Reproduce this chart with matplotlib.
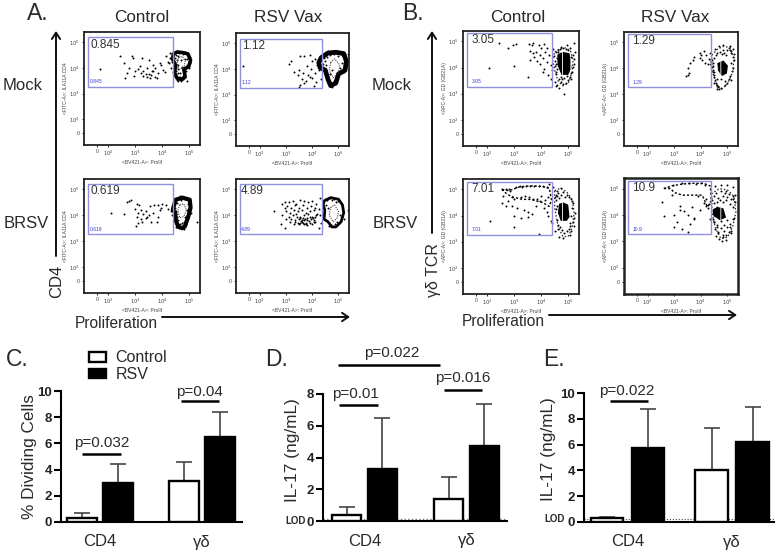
#!/usr/bin/env python3
import matplotlib
matplotlib.use("Agg")
import matplotlib.pyplot as plt
from matplotlib.patches import Rectangle

plt.rcParams["font.family"] = ["Liberation Sans", "DejaVu Sans"]
plt.rcParams["hatch.linewidth"] = 0.6

W, H = 784, 559
TXT = "#2a2a2a"
BLUE = "#8f8fe0"

# -----------------------------
# Bar data (panels C, D, E)
# -----------------------------
groups = ["CD4", "γδ"]

c_control = [0.3, 3.1]
c_rsv = [3.0, 6.5]
c_control_top = [0.7, 4.55]
c_rsv_top = [4.4, 8.4]

d_control = [0.35, 1.4]
d_rsv = [3.25, 4.75]
d_control_top = [0.88, 2.75]
d_rsv_top = [6.5, 7.4]

e_control = [0.3, 4.0]
e_rsv = [5.75, 6.2]
e_control_top = [0.4, 7.3]
e_rsv_top = [8.75, 8.95]

# -----------------------------
# Flow data, in log10 decades
# -----------------------------
a1_x = [1.7, 2.45, 2.88, 2.92, 2.6, 2.75, 2.7, 2.63, 3.0, 2.94, 3.25, 3.5, 3.18, 3.43, 3.67, 3.9, 3.3, 3.5, 3.67,
        3.85, 3.3, 3.55, 3.73, 4.03, 4.15, 4.28, 3.4, 3.6, 3.2, 3.75, 3.95, 4.1, 4.2, 3.1, 3.45, 3.62, 3.8, 4.3,
        4.25, 4.35, 4.32, 4.4, 4.38, 4.46, 4.9, 5.02, 4.6, 4.7, 4.85, 4.65, 4.78, 4.6, 4.72,
        4.45, 4.5, 4.55, 4.62, 4.7, 4.78, 4.86, 4.94, 5.02, 4.48, 4.54, 4.92, 5.0, 4.46, 4.52, 4.9, 4.98, 4.5,
        4.58, 4.88, 4.52, 4.6, 4.66, 4.8, 4.55, 4.62, 4.7, 4.78, 4.58, 4.68, 4.76]
a1_y = [3.95, 4.47, 4.45, 4.38, 4.2, 4.0, 3.8, 3.6, 3.9, 3.68, 4.38, 4.3, 4.06, 4.0, 4.13, 4.2, 3.87, 3.78, 3.87,
        3.8, 3.7, 3.6, 3.65, 3.93, 4.45, 4.58, 3.75, 3.72, 3.82, 4.0, 4.1, 3.85, 4.25, 3.95, 3.66, 3.9, 3.62,
        4.4, 4.2, 4.55, 4.0, 4.5, 4.25, 3.9, 3.5, 4.2, 4.1, 4.3, 4.35, 3.8, 3.95, 4.45, 4.05,
        4.6, 4.52, 4.66, 4.58, 4.64, 4.55, 4.62, 4.5, 4.42, 4.38, 4.3, 4.35, 4.2, 4.15, 4.05, 4.12, 3.98, 3.9,
        3.95, 3.9, 3.75, 3.8, 3.65, 3.8, 3.55, 3.65, 3.6, 3.7, 3.5, 3.5, 3.58]
a1_ring_x = [4.42, 4.55, 4.75, 4.95, 5.05, 4.98, 4.8, 4.85, 4.72, 4.55, 4.45, 4.5, 4.38]
a1_ring_y = [4.55, 4.62, 4.6, 4.55, 4.3, 4.05, 3.95, 3.65, 3.55, 3.6, 3.8, 4.1, 4.35]
a1_core_x = [4.6, 4.75, 4.85, 4.8, 4.62, 4.55]
a1_core_y = [4.4, 4.45, 4.25, 4.0, 3.95, 4.2]

a2_x = [1.35, 3.1, 3.2, 3.55, 3.7, 3.9, 3.5, 3.65, 3.8, 3.95, 4.1, 3.45, 3.6, 3.75, 3.9, 3.55, 3.7, 4.0, 4.15, 3.5,
        3.3, 4.2, 4.3, 4.05, 3.85, 4.25, 4.35, 4.1, 3.98, 5.35, 5.28, 4.4, 4.6, 5.15, 5.2, 4.75,
        4.3, 4.38, 4.46, 4.54, 4.42, 4.5, 4.58, 4.36, 4.44, 4.52, 4.6, 4.68, 4.76, 4.84, 4.92, 5.0, 5.08, 5.16,
        5.24, 5.12, 5.2, 5.06, 5.14, 4.98, 4.66, 4.74, 4.82, 4.9, 4.58, 4.66, 4.74]
a2_y = [4.1, 4.2, 4.3, 4.5, 4.52, 4.55, 3.95, 3.85, 4.1, 4.0, 3.85, 3.75, 3.6, 3.55, 3.7, 3.38, 3.45, 3.65, 3.5, 3.3,
        3.9, 4.15, 4.3, 3.35, 3.75, 3.95, 3.6, 4.4, 4.3, 4.6, 4.4, 4.55, 4.7, 4.65, 3.9, 3.3,
        4.4, 4.5, 4.42, 4.55, 4.2, 4.3, 4.45, 4.1, 4.05, 4.15, 4.62, 4.55, 4.66, 4.58, 4.62, 4.52, 4.6, 4.5,
        4.35, 4.25, 4.1, 4.05, 3.95, 3.88, 3.5, 3.42, 3.55, 3.65, 3.7, 3.8, 3.95]
a2_ring_x = [4.35, 4.6, 4.9, 5.2, 5.3, 5.25, 5.0, 4.9, 4.7, 4.6, 4.5, 4.3, 4.25]
a2_ring_y = [4.45, 4.62, 4.65, 4.6, 4.3, 3.95, 3.8, 3.45, 3.35, 3.6, 3.95, 4.05, 4.25]
a2_core_x = [4.7, 4.85, 5.05, 5.0, 4.8, 4.65]
a2_core_y = [4.25, 4.4, 4.15, 3.85, 3.65, 3.95]

a3_x = [2.1, 2.6, 2.7, 2.75, 2.85, 3.05, 3.15, 3.0, 3.2, 3.1, 3.4, 3.55, 3.7, 3.85, 4.0, 4.15, 3.3, 3.5, 3.65, 3.85,
        3.05, 3.2, 3.4, 3.6, 3.8, 3.1, 3.25, 3.45, 3.9, 4.2, 3.95, 3.02, 4.35, 4.32, 4.38, 5.3, 4.65, 5.05, 4.5,
        4.42, 4.48, 4.54, 4.6, 4.68, 4.76, 4.84, 4.92, 5.0, 4.46, 4.52, 4.94, 5.02, 4.5, 4.56, 4.9, 4.98, 4.52,
        4.6, 4.86, 4.94, 4.55, 4.63, 4.8, 4.88, 4.6, 4.68, 4.76, 4.84, 4.65, 4.72, 4.8]
a3_y = [4.1, 4.05, 4.5, 4.55, 4.6, 4.45, 4.4, 4.25, 4.2, 4.1, 4.15, 4.35, 4.4, 4.4, 4.45, 4.4, 4.05, 4.0, 4.1, 3.95,
        3.95, 3.85, 3.9, 3.75, 3.75, 3.7, 3.75, 3.95, 4.2, 4.25, 4.3, 3.6, 4.3, 4.15, 4.0, 3.75, 4.75, 4.1, 3.55,
        4.4, 4.55, 4.48, 4.62, 4.6, 4.68, 4.62, 4.66, 4.55, 4.28, 4.18, 4.42, 4.3, 4.05, 3.95, 4.2, 4.1, 3.85,
        3.8, 3.95, 3.88, 3.7, 3.62, 3.75, 3.68, 3.55, 3.5, 3.6, 3.55, 3.65, 3.72, 3.48]
a3_ring_x = [4.4, 4.5, 4.75, 5.02, 5.05, 4.98, 4.85, 4.75, 4.6, 4.5, 4.48, 4.4]
a3_ring_y = [4.25, 4.6, 4.68, 4.6, 4.3, 4.0, 3.6, 3.5, 3.55, 3.8, 4.1, 4.2]
a3_core_x = [4.65, 4.8, 4.9, 4.8, 4.65, 4.58]
a3_core_y = [4.4, 4.45, 4.2, 3.95, 3.9, 4.2]

a4_x = [2.55, 2.85, 2.95, 3.1, 3.25, 3.4, 3.55, 3.7, 3.85, 4.0, 4.15, 2.95, 3.05, 3.2, 3.35, 3.5, 3.65, 3.8, 3.95,
        4.1, 4.25, 3.0, 3.15, 3.3, 3.45, 3.6, 3.75, 3.9, 4.05, 4.2, 2.85, 3.1, 3.25, 3.4, 3.55, 3.7, 3.85, 4.0,
        4.15, 3.2, 3.35, 3.5, 3.65, 3.8, 3.95, 4.1, 3.45, 3.6, 3.75, 3.9, 4.05, 3.35, 3.5, 3.65, 3.8, 2.8, 2.95,
        3.3, 3.15, 3.0, 3.7, 3.55, 4.3, 4.35, 5.35, 5.2, 4.4, 4.3, 4.25,
        3.58, 3.68, 3.78, 3.88, 3.98, 4.08, 3.42, 3.52, 3.62, 3.72, 3.82, 3.92, 4.02, 4.12, 4.5, 4.58, 4.66, 4.74,
        4.82, 4.9, 4.98, 4.52, 4.6, 4.96, 5.06, 4.62, 4.72, 4.86]
a4_y = [4.15, 4.45, 4.5, 4.5, 4.55, 4.45, 4.6, 4.55, 4.5, 4.55, 4.45, 4.3, 4.35, 4.3, 4.4, 4.3, 4.4, 4.3, 4.35,
        4.3, 4.25, 4.15, 4.1, 4.2, 4.15, 4.2, 4.1, 4.15, 4.2, 4.05, 4.0, 3.95, 4.0, 4.05, 3.95, 4.0, 4.05, 3.95,
        4.0, 3.85, 3.8, 3.85, 3.9, 3.8, 3.85, 3.75, 3.7, 3.75, 3.65, 3.7, 3.75, 3.75, 3.65, 3.7, 3.62, 3.65, 3.5,
        3.68, 3.75, 3.85, 3.8, 3.72, 4.0, 3.7, 4.2, 3.85, 4.55, 4.65, 3.5,
        3.78, 3.68, 3.72, 3.78, 3.68, 3.82, 3.92, 3.88, 3.83, 3.87, 3.9, 3.95, 3.88, 3.92, 4.62, 4.6, 4.66, 4.58,
        4.62, 4.5, 4.55, 4.4, 4.3, 3.75, 4.0, 3.6, 3.62, 3.65]
a4_ring_x = [4.45, 4.7, 5.0, 5.15, 5.2, 5.1, 4.9, 4.75, 4.6, 4.45, 4.48, 4.42]
a4_ring_y = [4.55, 4.68, 4.62, 4.4, 4.1, 3.75, 3.55, 3.55, 3.75, 3.85, 4.2, 4.4]
a4_core_x = [4.7, 4.85, 5.0, 4.95, 4.8, 4.65]
a4_core_y = [4.3, 4.4, 4.15, 3.9, 3.75, 4.0]

b1_x = [2.05, 2.95, 3.05, 3.6, 3.5, 2.45, 2.75, 3.0, 3.55, 3.65, 3.7, 3.6, 3.7, 3.8, 3.9, 4.0, 4.1, 3.75, 3.85, 3.95,
        4.05, 4.15, 3.95, 4.05, 4.2, 4.1, 4.2, 4.3, 4.35, 4.25, 4.4, 4.35, 4.45, 4.5, 4.55, 5.2, 5.25, 4.65, 4.55,
        4.75, 4.95, 5.1, 5.15, 4.6, 4.85, 5.05,
        4.48, 4.56, 4.62, 4.52, 4.58, 4.5, 4.56, 4.54, 4.6, 5.18, 5.22, 5.12, 5.2, 5.16, 5.1, 5.05, 4.98, 4.9, 4.82,
        4.72, 4.66, 4.78, 4.86, 4.94, 4.7, 4.8, 4.9, 5.0, 4.62, 4.74]
b1_y = [4.0, 4.85, 4.9, 4.3, 3.65, 4.95, 4.75, 4.05, 4.9, 4.85, 4.95, 4.65, 4.55, 4.6, 4.85, 4.75, 4.9, 4.4, 4.25, 4.5,
        4.35, 4.6, 4.15, 3.85, 4.2, 3.95, 4.75, 4.5, 4.1, 3.7, 3.9, 3.55, 4.7, 3.45, 3.3, 4.95, 4.6, 3.2, 3.75,
        4.8, 4.85, 3.55, 3.85, 3.35, 3.0, 4.75,
        4.45, 4.6, 4.68, 4.25, 4.35, 4.05, 4.12, 3.85, 3.95, 4.5, 4.32, 4.42, 4.15, 4.02, 3.78, 3.65, 3.52, 3.42, 3.36,
        3.45, 3.58, 3.55, 3.6, 3.68, 4.72, 4.75, 4.72, 4.68, 4.58, 3.65]
b1_ring_x = [4.5, 4.7, 4.9, 5.08, 5.18, 5.15, 5.0, 4.8, 4.62, 4.5, 4.42]
b1_ring_y = [4.6, 4.72, 4.75, 4.65, 4.3, 3.85, 3.4, 3.3, 3.5, 3.9, 4.3]
b1_core_x = [4.6, 4.8, 5.05, 5.12, 5.0, 4.75, 4.6]
b1_core_y = [4.5, 4.6, 4.55, 4.0, 3.72, 3.72, 4.1]

b2_x = [3.5, 3.55, 3.6, 3.75, 3.95, 4.0, 3.7, 3.5, 3.45, 3.95, 4.1, 4.05, 4.2, 4.15, 4.3, 4.25, 4.35, 4.45, 4.5, 4.6,
        4.75, 5.0, 5.1, 5.2, 5.25, 4.6, 4.5, 4.6, 4.9, 5.15, 5.2, 4.55, 4.7, 4.85, 5.25, 5.1, 5.15, 4.75,
        4.38, 4.4, 4.42, 4.44, 4.46, 4.48, 4.5, 4.54, 4.58, 4.62, 4.66, 4.7, 4.38, 4.42, 4.46, 4.5, 4.56, 4.62,
        5.05, 5.1, 5.15, 5.2, 5.12, 5.18, 5.06, 5.0, 4.92, 4.84, 4.72, 4.78, 4.86, 4.94]
b2_y = [3.75, 3.8, 4.2, 4.45, 4.6, 4.5, 4.3, 4.0, 3.72, 4.4, 4.65, 4.3, 4.5, 4.2, 4.35, 4.15, 4.6, 4.1, 3.85, 3.6,
        3.25, 4.7, 4.85, 4.75, 4.55, 3.3, 3.45, 3.2, 3.35, 3.55, 4.0, 4.75, 4.85, 4.9, 4.3, 3.7, 4.65, 3.6,
        4.25, 4.15, 4.05, 3.95, 3.85, 3.75, 3.65, 3.55, 3.45, 3.35, 3.28, 3.2, 4.35, 4.3, 4.2, 4.4, 4.5, 4.6,
        4.8, 4.7, 4.6, 4.45, 4.2, 3.9, 3.6, 3.45, 3.5, 4.7, 4.62, 4.55, 4.6, 4.5]
b2_ring_x = [4.42, 4.6, 4.85, 5.1, 5.25, 5.2, 5.0, 4.8, 4.6, 4.45, 4.36]
b2_ring_y = [4.5, 4.72, 4.85, 4.8, 4.4, 3.85, 3.4, 3.2, 3.35, 3.8, 4.15]
b2_core_x = [4.62, 4.85, 5.02, 4.98, 4.8, 4.65]
b2_core_y = [4.2, 4.3, 4.1, 3.8, 3.7, 3.9]

b3_x = [2.1, 3.0, 3.9, 2.55, 2.7, 2.8, 2.85, 3.05, 3.2, 3.3, 3.45, 3.6, 3.75, 3.9, 4.05, 4.2, 4.3, 2.6, 2.75, 2.9,
        3.0, 3.25, 3.4, 3.55, 3.7, 3.85, 4.0, 4.15, 4.25, 2.55, 2.7, 2.9, 3.1, 3.35, 3.5, 3.65, 3.8, 3.95, 4.1,
        4.2, 3.0, 3.25, 3.5, 4.25, 4.35, 4.4, 4.6, 4.75, 5.15, 5.1, 4.5, 4.65, 4.8, 5.05, 5.2, 4.55, 4.45, 5.25,
        4.52, 4.56, 4.6, 4.62, 4.58, 4.54, 4.66, 4.72, 4.8, 4.88, 4.96, 5.04, 5.12, 5.18, 5.14, 5.2, 5.08, 5.02,
        4.94, 4.86, 4.78, 4.7, 4.64, 5.1, 5.16, 5.06, 4.58, 4.62]
b3_y = [3.8, 3.55, 3.3, 5.0, 5.0, 5.02, 4.95, 5.1, 5.12, 5.08, 5.15, 5.12, 5.15, 5.12, 5.15, 5.1, 5.22, 4.75, 4.55, 4.7,
        4.65, 4.72, 4.75, 4.7, 4.62, 4.65, 4.75, 4.6, 4.7, 4.5, 4.35, 4.35, 4.3, 4.2, 4.15, 4.05, 4.35, 4.55, 4.3,
        4.15, 4.0, 3.9, 3.95, 4.0, 3.8, 3.7, 4.95, 5.05, 4.55, 3.4, 3.4, 3.2, 3.15, 3.25, 3.6, 4.8, 5.1, 4.1,
        4.7, 4.6, 4.75, 4.85, 4.35, 4.25, 4.68, 4.8, 4.9, 4.72, 4.8, 4.72, 4.65, 4.5, 4.3, 3.9, 3.7, 3.5,
        3.42, 3.35, 3.45, 3.55, 3.5, 4.0, 3.75, 3.6, 3.85, 3.65]
b3_ring_x = [4.5, 4.7, 4.95, 5.15, 5.22, 5.15, 5.0, 4.8, 4.62, 4.5]
b3_ring_y = [4.95, 5.05, 4.9, 4.6, 4.1, 3.55, 3.2, 3.2, 3.6, 4.3]
b3_core_x = [4.66, 4.82, 5.0, 5.05, 4.95, 4.72, 4.62]
b3_core_y = [4.45, 4.5, 4.42, 3.95, 3.8, 3.8, 4.1]
b3_arc_x = [2.55, 2.8, 3.2, 3.6, 4.0, 4.3, 4.38, 4.3, 4.05, 3.6, 3.3, 2.9, 2.7]
b3_arc_y = [5.0, 4.95, 5.1, 5.14, 5.12, 5.05, 4.6, 4.35, 4.5, 4.62, 4.62, 4.72, 4.85]

b4_x = [1.1, 2.55, 2.9, 3.2, 3.35, 3.5, 3.75, 3.0, 2.6, 2.95, 3.3, 3.55, 3.8, 4.0, 4.15, 3.1, 3.3, 3.6, 3.75, 3.95, 4.2,
        4.3, 3.9, 4.1, 4.25, 4.4, 4.55, 4.75, 5.0, 5.2, 5.3, 4.45, 4.6, 4.85, 5.15, 5.25, 4.65, 4.5, 4.8, 4.95, 5.1,
        5.2, 4.95, 4.6, 3.0, 3.2, 3.5, 3.65, 4.2, 4.35,
        4.42, 4.5, 4.58, 4.66, 4.74, 4.82, 4.9, 4.98, 5.06, 5.14, 5.22, 5.3, 4.5, 4.62, 4.74, 4.86, 4.98, 5.1, 5.22,
        4.52, 4.64, 4.76, 4.88, 5.0, 5.12, 4.48, 4.6, 4.72, 4.84, 4.96, 5.08, 5.2, 4.58, 4.7, 4.82, 4.94, 5.06]
b4_y = [3.95, 4.5, 4.75, 4.35, 4.15, 4.0, 3.85, 3.55, 3.95, 5.15, 5.2, 5.22, 5.18, 5.2, 5.15, 3.75, 3.45, 3.65, 3.9, 4.2,
        4.6, 4.4, 4.7, 4.45, 4.25, 4.65, 5.1, 5.15, 5.15, 5.05, 4.75, 3.85, 3.55, 3.15, 3.4, 3.9, 3.3, 3.75, 3.0,
        3.25, 3.55, 4.6, 4.9, 4.3, 4.0, 4.2, 3.35, 4.3, 4.35, 3.85,
        4.55, 4.7, 4.82, 4.65, 4.9, 4.72, 4.85, 4.68, 4.8, 4.6, 4.72, 4.5, 3.75, 3.6, 3.78, 3.62, 3.8, 3.65, 3.85,
        3.45, 3.35, 3.5, 3.4, 3.55, 3.3, 4.45, 4.5, 4.58, 4.48, 4.55, 4.42, 4.3, 3.2, 3.1, 3.25, 3.05, 3.35]
b4_ring_x = [4.4, 4.7, 5.0, 5.25, 5.32, 5.2, 5.0, 4.75, 4.55, 4.42]
b4_ring_y = [4.8, 5.0, 4.95, 4.7, 4.1, 3.55, 3.15, 3.1, 3.5, 4.1]
b4_core_x = [4.42, 4.62, 4.85, 4.95, 4.72, 4.48]
b4_core_y = [4.2, 4.3, 4.25, 3.9, 3.8, 3.95]
b4_arc_x = [2.6, 2.9, 3.3, 3.7, 4.1, 4.35, 4.4, 4.25, 4.05, 3.7, 3.3, 3.0, 2.85]
b4_arc_y = [5.0, 5.1, 5.17, 5.2, 5.2, 5.1, 4.55, 4.3, 4.75, 4.75, 4.75, 4.85, 5.0]

# -----------------------------
# Helpers
# -----------------------------
fig = plt.figure(figsize=(W / 100, H / 100), dpi=100)


def px_axes(left, top, right, bottom):
    return fig.add_axes([left / W, 1 - bottom / H, (right - left) / W, (bottom - top) / H])


over = fig.add_axes([0, 0, 1, 1], zorder=10)
over.set_xlim(0, W)
over.set_ylim(H, 0)
over.axis("off")


def label(x, y, s, size, ha="center", **kw):
    over.text(x, y, s, fontsize=size, ha=ha, va="center", color=TXT, **kw)


def flow(box, x, y, ring_x, ring_y, core_x, core_y, gate_top, value, ylab, arc_x=None, arc_y=None, edge=1.3,
         streaky=False, ring_lw=2.6, value_x=1.42):
    ax = px_axes(*box)
    ax.set_xlim(1.1, 5.4)
    ax.set_ylim(1.0, 5.4)
    ax.add_patch(Rectangle((1.26, 3.27), 3.13, gate_top - 3.27, fill=False, ec=BLUE, lw=1.0, zorder=3))
    ax.scatter(x, y, s=2.0, c="black", linewidths=0, zorder=2)
    if streaky:
        # gamma-delta blobs: open speckle with a dark streaky core
        ax.fill(ring_x, ring_y, fc="none", ec="#222222", lw=0.9, ls=(0, (1.2, 1.6)), zorder=2)
        ax.fill(core_x, core_y, fc="black", ec="white", hatch="||", lw=0, zorder=2)
    else:
        ax.fill(ring_x, ring_y, fc="none", ec="black", lw=ring_lw, joinstyle="round", zorder=2)
        ax.fill(core_x, core_y, fc="none", ec="#333333", lw=0.7, ls=(0, (1.2, 1.2)), zorder=2)
    if arc_x:
        ax.fill(arc_x, arc_y, fc="none", ec="black", lw=1.0, ls=(0, (1.6, 1.4)), zorder=2)
    ax.text(value_x, gate_top - 0.28, value, fontsize=8.5, color="#333333", va="center", zorder=4)
    ax.text(value_x, 3.46, value, fontsize=3.6, color="#3a3ad8", va="center", zorder=4)
    ax.set_xticks([1.6, 2, 3, 4, 5], ["0", "$10^2$", "$10^3$", "$10^4$", "$10^5$"])
    ax.set_yticks([1.46, 2, 3, 4, 5], ["0", "$10^2$", "$10^3$", "$10^4$", "$10^5$"])
    ax.tick_params(labelsize=3.8, length=1.5, width=0.6, pad=1.5, labelcolor="#444444")
    ax.set_xlabel("<BV421-A>: Prolif", fontsize=3.6, labelpad=0.8, color="#444444")
    ax.set_ylabel(ylab, fontsize=3.6, labelpad=0.5, color="#444444")
    for s in ax.spines.values():
        s.set_linewidth(edge)
        s.set_color("#222222")
    return ax


def bars(box, xlim, ylim, yticks, control, rsv, control_top, rsv_top, width, off):
    ax = px_axes(*box)
    pos = range(len(groups))
    bar_c = ax.bar([p - off for p in pos], control, width, color="white", edgecolor="black", linewidth=1.7,
                   label="Control", zorder=3)
    bar_r = ax.bar([p + off for p in pos], rsv, width, color="black", edgecolor="black", linewidth=1.7,
                   label="RSV", zorder=3)
    for xs, vals, tops in (([p - off for p in pos], control, control_top), ([p + off for p in pos], rsv, rsv_top)):
        for x, v, t in zip(xs, vals, tops):
            ax.errorbar(x, v, yerr=[[0], [t - v]], color="#444444", elinewidth=1.2, capsize=5.6, capthick=1.2,
                        zorder=2)
    ax.set_xlim(*xlim)
    ax.set_ylim(*ylim)
    ax.set_yticks(yticks)
    ax.set_xticks(list(pos), groups)
    ax.tick_params(axis="x", length=0, labelsize=12, pad=9, labelcolor=TXT)
    ax.tick_params(axis="y", length=5, width=1.5, labelsize=9.5, pad=1.5, labelcolor="#222222")
    for t in ax.get_yticklabels():
        t.set_fontweight("bold")
    ax.spines["top"].set_visible(False)
    ax.spines["right"].set_visible(False)
    ax.spines["left"].set_linewidth(1.5)
    ax.spines["bottom"].set_linewidth(1.5)
    ax.patch.set_alpha(0)
    return ax, bar_c, bar_r


def sig(x0, x1, y, tx, ty, s):
    over.plot([x0, x1], [y, y], color="black", lw=1.8, solid_capstyle="butt")
    label(tx, ty, s, 11)


# -----------------------------
# Panels A and B
# -----------------------------
CD4_LAB = "<FITC-A>: ILA11A CD4"
GD_LAB = "<APC-A>: GD (GB21A)"

flow((84, 32, 200, 145), a1_x, a1_y, a1_ring_x, a1_ring_y, a1_core_x, a1_core_y, 5.19, "0.845", CD4_LAB,
     value_x=1.33)
flow((236, 33, 349, 146), a2_x, a2_y, a2_ring_x, a2_ring_y, a2_core_x, a2_core_y, 5.17, "1.12", CD4_LAB,
     ring_lw=3.4, value_x=1.33)
flow((84, 179, 200, 293), a3_x, a3_y, a3_ring_x, a3_ring_y, a3_core_x, a3_core_y, 5.2, "0.619", CD4_LAB,
     ring_lw=3.0, value_x=1.33)
flow((236, 179, 349, 293), a4_x, a4_y, a4_ring_x, a4_ring_y, a4_core_x, a4_core_y, 5.2, "4.89", CD4_LAB,
     ring_lw=2.0, value_x=1.28)
flow((463, 31, 579, 146), b1_x, b1_y, b1_ring_x, b1_ring_y, b1_core_x, b1_core_y, 5.33, "3.05", GD_LAB, streaky=True)
flow((624, 32, 738, 146), b2_x, b2_y, b2_ring_x, b2_ring_y, b2_core_x, b2_core_y, 5.33, "1.29", GD_LAB, streaky=True)
flow((463, 179, 579, 294), b3_x, b3_y, b3_ring_x, b3_ring_y, b3_core_x, b3_core_y, 5.3, "7.01", GD_LAB, b3_arc_x, b3_arc_y,
     streaky=True)
flow((624, 178, 738, 294), b4_x, b4_y, b4_ring_x, b4_ring_y, b4_core_x, b4_core_y, 5.3, "10.9", GD_LAB, b4_arc_x, b4_arc_y,
     edge=1.8, streaky=True)

label(27, 14, "A.", 16.5, ha="left")
label(402, 14, "B.", 16.5, ha="left")
label(142, 18, "Control", 12.3)
label(288, 18, "RSV Vax", 12.3)
label(518, 17, "Control", 12.3)
label(675, 17, "RSV Vax", 12.3)
label(23, 85, "Mock", 12)
label(26, 223, "BRSV", 12)
label(392, 85, "Mock", 12)
label(395, 223, "BRSV", 12)
label(57, 281, "CD4", 12, rotation=90)
label(434, 270, "γδ TCR", 11.5, rotation=90)
label(75, 323, "Proliferation", 11.2, ha="left")
label(462, 322, "Proliferation", 11.2, ha="left")

for start, end in (((56, 256), (56, 31)), ((162, 317), (350, 317)), ((432, 233), (432, 31)), ((549, 315), (737, 315))):
    over.annotate("", xy=end, xytext=start,
                  arrowprops=dict(arrowstyle="->,head_length=0.45,head_width=0.3", color="#111111", lw=1.4,
                                  shrinkA=0, shrinkB=0))

# -----------------------------
# Panels C, D, E
# -----------------------------
ax_c, bar_c, bar_r = bars((61, 391, 242, 522), (-0.382, 1.39), (0, 10), [0, 2, 4, 6, 8, 10], c_control, c_rsv,
                          c_control_top, c_rsv_top, 0.29, 0.175)
ax_d, _, _ = bars((323, 394, 507, 521), (-0.407, 1.397), (0, 8), [0, 2, 4, 6, 8], d_control, d_rsv,
                  d_control_top, d_rsv_top, 0.29, 0.175)
ax_e, _, _ = bars((584, 393, 774, 522), (-0.416, 1.40), (0, 10), [0, 2, 4, 6, 8, 10], e_control, e_rsv,
                  e_control_top, e_rsv_top, 0.31, 0.196)

ax_d.axhline(0.1, color="#777777", lw=1.0, ls=":", zorder=1)
ax_e.axhline(0.25, color="#444444", lw=0.8, ls=":", zorder=1)

ax_c.legend(handles=[bar_c, bar_r], loc="upper left", bbox_to_anchor=(0.155, 1.31), frameon=False, fontsize=11.5,
            handlelength=1.06, handleheight=0.55, handletextpad=0.6, labelspacing=0.12, borderpad=0, borderaxespad=0,
            labelcolor=TXT)

label(30, 457, "% Dividing Cells", 12.4, rotation=90)
label(293, 450, "IL-17 (ng/mL)", 12.4, rotation=90)
label(549, 449, "IL-17 (ng/mL)", 12.4, rotation=90)
label(296, 521, "LOD", 7, fontweight="bold")
label(555, 519, "LOD", 7, fontweight="bold")

label(6, 359, "C.", 16.5, ha="left")
label(265, 359, "D.", 16.5, ha="left")
label(543, 360, "E.", 16.5, ha="left")

sig(82, 121, 454, 102, 443, "p=0.032")
sig(181, 219, 401, 199, 392, "p=0.04")
sig(338, 440, 365, 392, 353, "p=0.022")
sig(339, 378, 405, 355, 394, "p=0.01")
sig(444, 482, 390, 463, 378, "p=0.016")
sig(610, 648, 401, 627, 391, "p=0.022")

fig.savefig("out.png", dpi=100)
